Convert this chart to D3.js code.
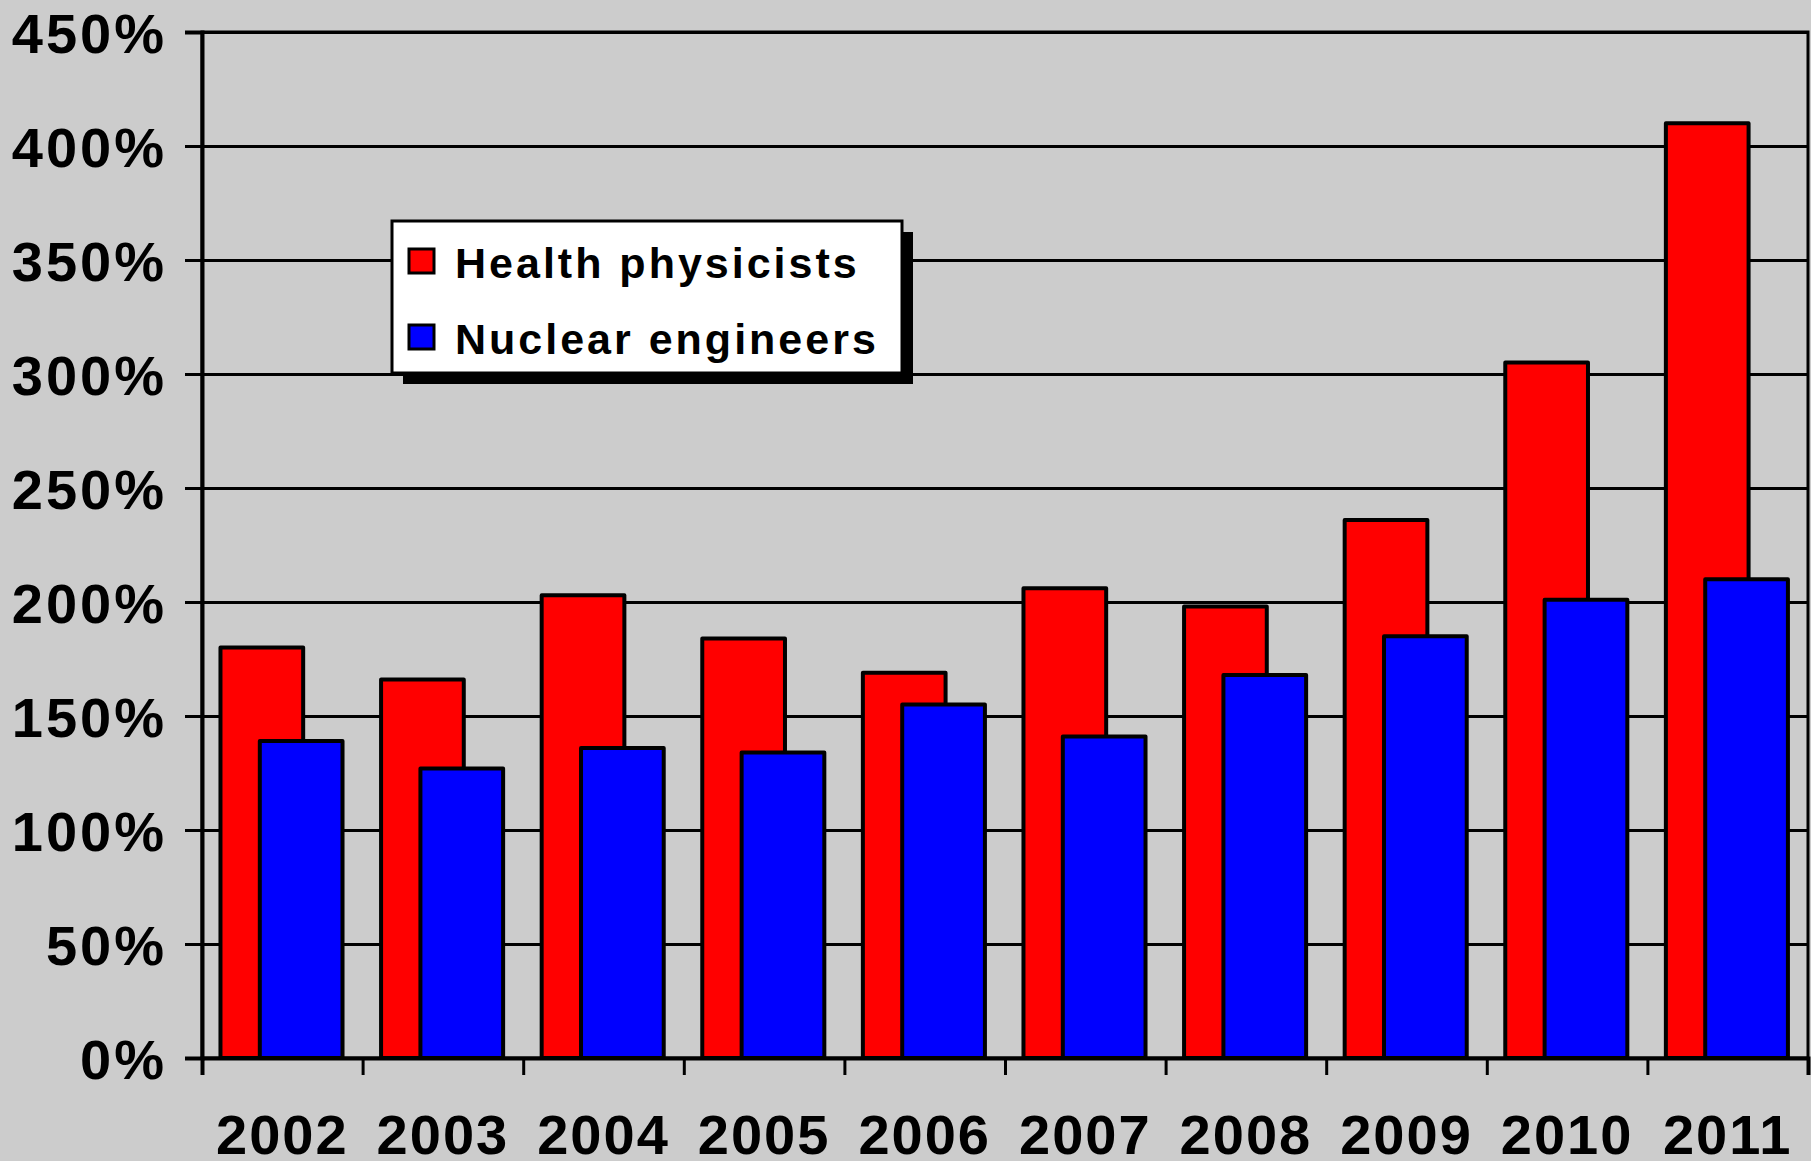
<!DOCTYPE html>
<html>
<head>
<meta charset="utf-8">
<script src="https://cdn.jsdelivr.net/npm/d3@7"></script>
<style>
  body { margin: 0; background: #cccccc; }
  text { font-family: "Liberation Sans", Arial, sans-serif; font-weight: bold; fill: #000; }
</style>
</head>
<body>
<svg class="chart"></svg>
<script>

// percent change
var years = ['2002', '2003', '2004', '2005', '2006', '2007', '2008', '2009', '2010', '2011'];
var healthPhysicists = [180, 166, 203, 184, 169, 206, 198, 236, 305, 410];
var nuclearEngineers = [139, 127, 136, 134, 155, 141, 168, 185, 201, 210];
var seriesNames = ['Health physicists', 'Nuclear engineers'];
var seriesColors = ['#ff0000', '#0000ff'];
var yTicks = [0, 50, 100, 150, 200, 250, 300, 350, 400, 450];

var margin = {top: 32, right: 3, bottom: 103, left: 202}
    , width = 1811 - margin.left - margin.right
    , height = 1161 - margin.top - margin.bottom;

var x = d3.scaleBand()
    .domain(years)
    .range([0, width]);

var xEdge = d3.scaleLinear()
    .domain([0, years.length])
    .range([0, width]);

var y = d3.scaleLinear()
    .domain([0, 450])
    .range([height, 0]);

var chart = d3.select('.chart')
    .attr('width', 1811)
    .attr('height', 1161)
    .style('display', 'block');

chart.append('rect')
    .attr('width', 1811)
    .attr('height', 1161)
    .attr('fill', '#cccccc');

var main = chart.append('g')
    .attr('transform', 'translate(' + margin.left + ',' + margin.top + ')');

// gridlines
main.append('g')
    .call(d3.axisLeft(y).tickValues(yTicks).tickSize(-width).tickFormat(''))
    .call(function (g) {
        g.select('.domain').remove();
        g.selectAll('line').attr('stroke', '#000').attr('stroke-width', 3);
    });

// plot border (top / right)
main.append('rect')
    .attr('width', width)
    .attr('height', height)
    .attr('fill', 'none')
    .attr('stroke', '#000')
    .attr('stroke-width', 3);

// bars
var bw = x.bandwidth();
var series = [healthPhysicists, nuclearEngineers];

series.forEach(function (vals, s) {
    main.append('g')
        .selectAll('rect')
        .data(vals)
        .enter().append('rect')
        .attr('x', function (d, i) { return x(years[i]) + bw * (s === 0 ? 0.115 : 0.36); })
        .attr('y', function (d) { return y(d); })
        .attr('width', bw * 0.515)
        .attr('height', function (d) { return height - y(d); })
        .attr('fill', seriesColors[s])
        .attr('stroke', '#000')
        .attr('stroke-width', 4)
        .attr('stroke-linejoin', 'round');
});

// y axis
main.append('g')
    .call(d3.axisLeft(y).tickValues(yTicks).tickSize(17).tickPadding(18)
        .tickFormat(function (d) { return d + '%'; }))
    .call(function (g) {
        g.select('.domain').attr('stroke-width', 4);
        g.selectAll('line').attr('stroke-width', 3);
        g.selectAll('text')
            .attr('dy', '0.36em')
            .style('font-size', '56px')
            .style('letter-spacing', '3px')
            .style('font-family', '"Liberation Sans", Arial, sans-serif');
    });

// x axis: ticks at category edges
main.append('g')
    .attr('transform', 'translate(0,' + height + ')')
    .call(d3.axisBottom(xEdge).ticks(years.length).tickSize(17).tickFormat(''))
    .call(function (g) {
        g.select('.domain').attr('stroke-width', 4);
        g.selectAll('line').attr('stroke-width', 3);
    });

// x labels
main.append('g')
    .attr('transform', 'translate(0,' + height + ')')
    .call(d3.axisBottom(x).tickSize(0))
    .call(function (g) {
        g.select('.domain').remove();
        g.selectAll('text')
            .attr('y', 96)
            .attr('dy', 0)
            .style('font-size', '56px')
            .style('letter-spacing', '2px')
            .style('font-family', '"Liberation Sans", Arial, sans-serif');
    });

// legend
var legend = chart.append('g')
    .attr('transform', 'translate(392,221)');

legend.append('rect')
    .attr('x', 11)
    .attr('y', 11)
    .attr('width', 510)
    .attr('height', 152)
    .attr('fill', '#000');

legend.append('rect')
    .attr('width', 510)
    .attr('height', 152)
    .attr('fill', '#fff')
    .attr('stroke', '#000')
    .attr('stroke-width', 3);

seriesNames.forEach(function (name, i) {
    legend.append('rect')
        .attr('x', 17)
        .attr('y', 28 + i * 76)
        .attr('width', 25)
        .attr('height', 24)
        .attr('fill', seriesColors[i])
        .attr('stroke', '#000')
        .attr('stroke-width', 3);

    legend.append('text')
        .attr('x', 63)
        .attr('y', 57 + i * 76)
        .style('font-size', '43px')
        .style('letter-spacing', '3px')
        .text(name);
});

</script>
</body>
</html>
